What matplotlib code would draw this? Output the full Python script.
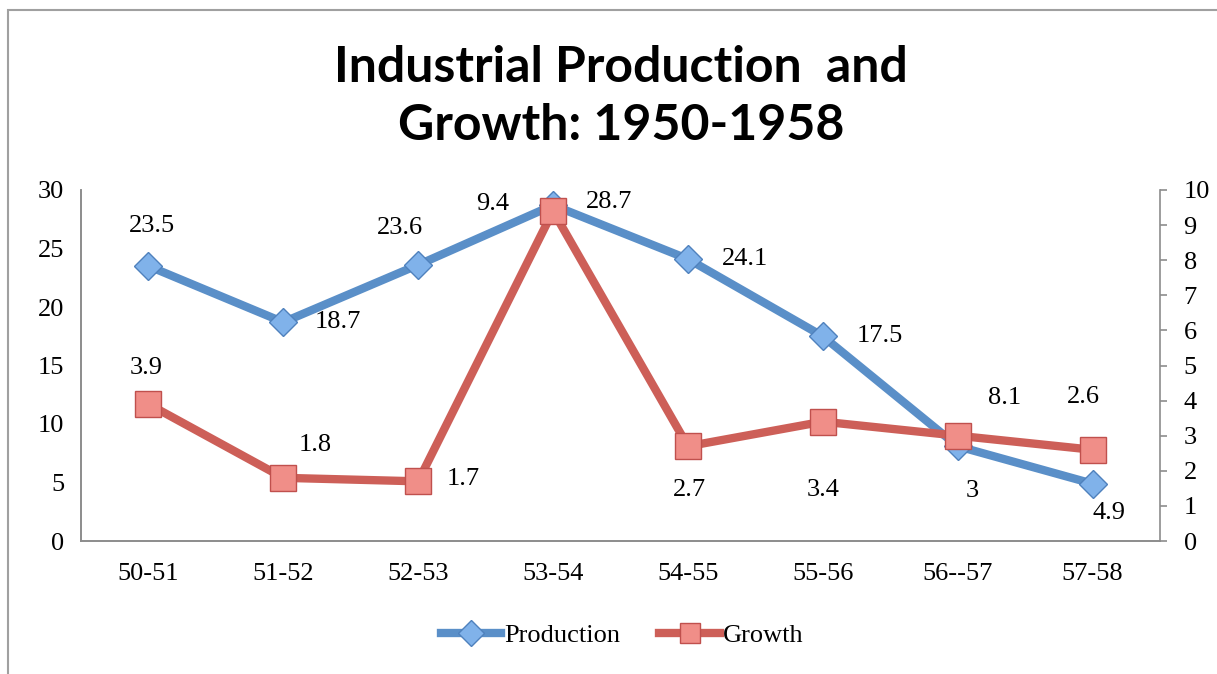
import matplotlib
matplotlib.use("Agg")
import matplotlib.pyplot as plt
from matplotlib.lines import Line2D
from matplotlib.patches import Rectangle

categories = ["50-51", "51-52", "52-53", "53-54", "54-55", "55-56", "56--57", "57-58"]
production = [23.5, 18.7, 23.6, 28.7, 24.1, 17.5, 8.1, 4.9]
growth = [3.9, 1.8, 1.7, 9.4, 2.7, 3.4, 3, 2.6]
left_ticks = [0, 5, 10, 15, 20, 25, 30]
right_ticks = list(range(0, 11))

# label offsets in pixels (style, not data)
prod_off = [(4, 40), (55, 0), (-18, 37), (56, 3), (57, 0), (57, 0), (47, 48), (16, -29)]
grow_off = [(-2, 36), (32, 33), (45, 2), (-60, 7), (2, -44), (0, -68), (15, -55), (-9, 53)]

W, H, DPI = 1217, 674, 100
fig = plt.figure(figsize=(W / DPI, H / DPI), dpi=DPI)
fig.patch.set_facecolor("white")

serif = "Liberation Serif"
title_font = "Lato"
fs = 19

# outer frame
fig.add_artist(Rectangle((8 / W, -0.1), 1.2, 1 - 10 / H + 0.1, transform=fig.transFigure,
                         fill=False, edgecolor="#a0a0a0", linewidth=1.5))

ax = fig.add_axes([81 / W, 1 - 541 / H, (1160 - 81) / W, (541 - 190) / H])
ax2 = ax.twinx()

x = list(range(len(categories)))
blue = "#5a8fc8"
red = "#cd5f58"

ax.plot(x, production, color=blue, linewidth=6, marker="D", markersize=14,
        markerfacecolor="#80b2ea", markeredgecolor="#4f81bd", markeredgewidth=1, zorder=3)
ax2.plot(x, growth, color=red, linewidth=6, marker="s", markersize=19,
         markerfacecolor="#f08e88", markeredgecolor="#c0504d", markeredgewidth=1, zorder=3)

ax.set_xlim(-0.5, len(categories) - 0.5)
ax.set_ylim(0, 30)
ax2.set_ylim(0, 10)
ax.set_yticks(left_ticks)
ax2.set_yticks(right_ticks)
ax.set_xticks(x)
ax.set_xticklabels(categories)

for a in (ax, ax2):
    for s in a.spines.values():
        s.set_color("#8c8c8c")
        s.set_linewidth(1.2)
    a.spines["top"].set_visible(False)

ax.spines["right"].set_visible(False)
ax.tick_params(axis="y", length=0, pad=12, labelsize=fs)
ax.tick_params(axis="x", length=0, pad=16, labelsize=fs)
ax2.tick_params(axis="y", length=5, width=1.2, color="#8c8c8c", pad=12, labelsize=fs)
for lab in ax.get_xticklabels() + ax.get_yticklabels() + ax2.get_yticklabels():
    lab.set_fontfamily(serif)

for i, v in enumerate(production):
    ax.annotate(f"{v:g}", (x[i], v), xytext=prod_off[i], textcoords="offset pixels",
                ha="center", va="center", fontsize=fs, fontfamily=serif, zorder=5)
for i, v in enumerate(growth):
    ax2.annotate(f"{v:g}", (x[i], v), xytext=grow_off[i], textcoords="offset pixels",
                 ha="center", va="center", fontsize=fs, fontfamily=serif, zorder=5)

fig.text(621 / W, 1 - 68 / H, "Industrial Production  and", ha="center", va="center",
         fontsize=36, fontweight="bold", fontfamily=title_font)
fig.text(621 / W, 1 - 125 / H, "Growth: 1950-1958", ha="center", va="center",
         fontsize=36, fontweight="bold", fontfamily=title_font)

handles = [
    Line2D([], [], color=blue, linewidth=6, marker="D", markersize=13,
           markerfacecolor="#80b2ea", markeredgecolor="#4f81bd"),
    Line2D([], [], color=red, linewidth=6, marker="s", markersize=15,
           markerfacecolor="#f08e88", markeredgecolor="#c0504d"),
]
leg = fig.legend(handles, ["Production", "Growth"], loc="center", ncol=2,
                 bbox_to_anchor=(622 / W, 1 - 635 / H), frameon=False,
                 prop={"family": serif, "size": fs}, handlelength=2.3,
                 handletextpad=0.1, columnspacing=1.5)

fig.savefig("out.png", dpi=DPI)
